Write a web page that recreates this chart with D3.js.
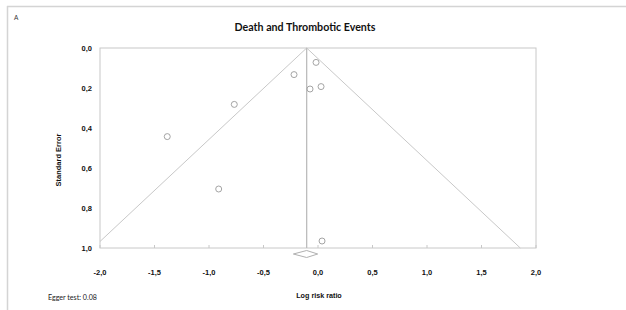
<!DOCTYPE html>
<html><head><meta charset="utf-8">
<script src="https://cdn.jsdelivr.net/npm/d3@7"></script>
<style>body{margin:0;background:#fff}svg{display:block}</style>
</head><body>
<script>
const logRR = [-0.018, -0.22, -0.073, 0.028, -0.768, -1.383, -0.911, 0.037];
const stdErr = [0.072, 0.133, 0.205, 0.193, 0.282, 0.443, 0.705, 0.965];
const pooled = -0.104;
const pooledLow = -0.226, pooledHigh = -0.003;
const xTicks = [-2.0, -1.5, -1.0, -0.5, 0.0, 0.5, 1.0, 1.5, 2.0];
const yTicks = [0.0, 0.2, 0.4, 0.6, 0.8, 1.0];
const title = "Death and Thrombotic Events";
const xLabel = "Log risk ratio";
const yLabel = "Standard Error";
const note = "Egger test: 0.08";
const panel = "A";

const W = 626, H = 310;
const svg = d3.select("body").append("svg").attr("width", W).attr("height", H);
const gray = "#c8c8c8";

svg.append("line").attr("x1",7).attr("x2",W).attr("y1",6.5).attr("y2",6.5).attr("stroke","#d4d4d4").attr("stroke-width",1.5);
svg.append("line").attr("x1",7.5).attr("x2",7.5).attr("y1",6).attr("y2",H).attr("stroke","#d4d4d4").attr("stroke-width",1.5);

const x = d3.scaleLinear().domain([-2, 2]).range([100, 536]);
const y = d3.scaleLinear().domain([0, 1]).range([48, 248]);

const fmt = d => d3.format(".1f")(d).replace(".", ",").replace("−","-");

svg.append("rect").attr("x", x(-2)).attr("y", y(0)).attr("width", x(2)-x(-2)).attr("height", y(1)-y(0))
  .attr("fill","none").attr("stroke", gray).attr("stroke-width",1);

svg.append("g").selectAll("line").data(xTicks).join("line")
  .attr("x1", d=>x(d)).attr("x2", d=>x(d)).attr("y1", y(1)).attr("y2", y(1)-3)
  .attr("stroke", gray);

svg.append("g").selectAll("text").data(xTicks).join("text")
  .attr("x", d=>x(d)).attr("y", 275).attr("text-anchor","middle")
  .attr("font-family","Liberation Sans, Arial, sans-serif").attr("font-weight","bold").attr("font-size",7.5)
  .attr("fill","#111").text(fmt);

svg.append("g").selectAll("text").data(yTicks).join("text")
  .attr("x", 92).attr("y", d=>y(d)+3).attr("text-anchor","end")
  .attr("font-family","Liberation Sans, Arial, sans-serif").attr("font-weight","bold").attr("font-size",7.5)
  .attr("fill","#111").text(fmt);

const seMax = 1;
const leftSE = (pooled - (-2)) / 1.96;
svg.append("line").attr("x1", x(pooled)).attr("y1", y(0)).attr("x2", x(-2)).attr("y2", y(leftSE))
  .attr("stroke", gray).attr("stroke-width",1);
svg.append("line").attr("x1", x(pooled)).attr("y1", y(0)).attr("x2", x(pooled + 1.96*seMax)).attr("y2", y(seMax))
  .attr("stroke", gray).attr("stroke-width",1);
svg.append("line").attr("x1", x(pooled)).attr("y1", y(0)).attr("x2", x(pooled)).attr("y2", y(1))
  .attr("stroke", "#bdbdbd").attr("stroke-width",1.3);

const dy = y(1) + 6;
svg.append("path").attr("d", `M${x(pooledLow)},${dy} L${x(pooled)},${dy-3.5} L${x(pooledHigh)},${dy} L${x(pooled)},${dy+3.5} Z`)
  .attr("fill","#fff").attr("stroke", "#b0b0b0").attr("stroke-width",1);

svg.append("g").selectAll("circle").data(logRR).join("circle")
  .attr("cx", d=>x(d)).attr("cy", (d,i)=>y(stdErr[i])).attr("r", 3)
  .attr("fill","#fff").attr("stroke","#9a9a9a").attr("stroke-width",0.9);

function fitText(sel, width) {
  const w = sel.node().getComputedTextLength();
  const fs = parseFloat(sel.attr("font-size"));
  sel.attr("font-size", fs * width / w);
}

const t = svg.append("text").attr("x", 305).attr("y", 31).attr("text-anchor","middle")
  .attr("font-family","Lato, Open Sans, sans-serif").attr("font-weight","bold").attr("font-size",13)
  .attr("fill","#111").text(title);
fitText(t, 141);

svg.append("text").attr("x", 319).attr("y", 298).attr("text-anchor","middle")
  .attr("font-family","Liberation Sans, Arial, sans-serif").attr("font-weight","bold").attr("font-size",7.2)
  .attr("fill","#111").text(xLabel);
svg.append("text").attr("transform","translate(61,160) rotate(-90)").attr("text-anchor","middle")
  .attr("font-family","Liberation Sans, Arial, sans-serif").attr("font-weight","bold").attr("font-size",7.5)
  .attr("fill","#111").text(yLabel);

const n = svg.append("text").attr("x", 48).attr("y", 300)
  .attr("font-family","Lato, Open Sans, sans-serif").attr("font-size",8)
  .attr("fill","#222").text(note);
fitText(n, 49);
svg.append("text").attr("x", 14).attr("y", 20)
  .attr("font-family","Liberation Sans, Arial, sans-serif").attr("font-size",6.5)
  .attr("fill","#333").text(panel);
</script>
</body></html>
